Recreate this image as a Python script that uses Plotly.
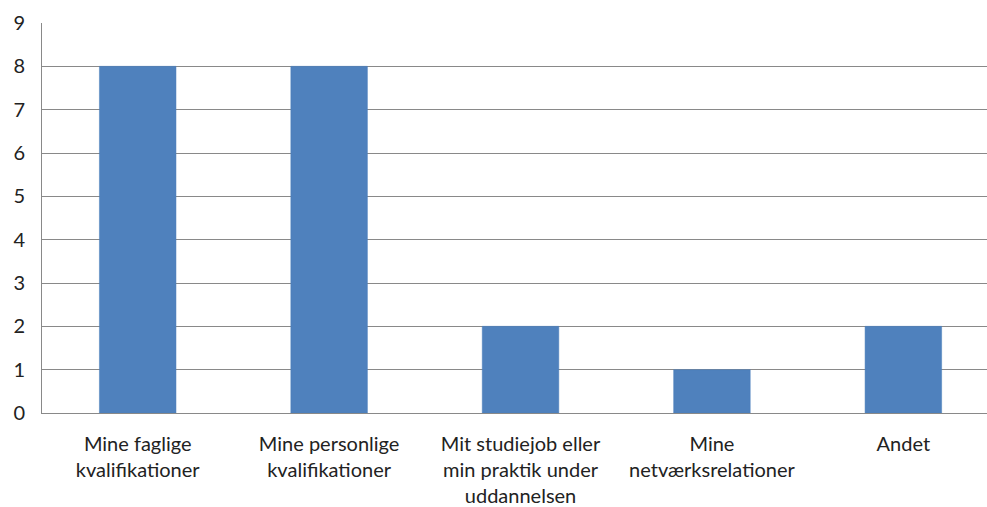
import plotly.graph_objects as go

categories = ["Mine faglige<br>kvalifikationer", "Mine personlige<br>kvalifikationer",
              "Mit studiejob eller<br>min praktik under<br>uddannelsen", "Mine<br>netværksrelationer", "Andet"]
values = [8, 8, 2, 1, 2]
y_ticks = list(range(0, 10))

fig = go.Figure(go.Bar(
    x=categories, y=values,
    marker=dict(color="#4F81BD", line=dict(color="#4A7EBB", width=0.5)),
    width=0.4,
))
fig.update_layout(
    width=987, height=507,
    margin=dict(l=42, r=0, t=23, b=94),
    paper_bgcolor="white", plot_bgcolor="white",
    font=dict(family="Lato, Open Sans, sans-serif", size=20, color="#222222"),
    showlegend=False, bargap=0.6,
)
fig.update_yaxes(range=[0, 9], tickvals=y_ticks, showgrid=True, gridcolor="#898989", gridwidth=1,
                 showline=True, linecolor="#898989", linewidth=1, ticks="", zeroline=False,
                 ticklabelstandoff=12, automargin=False)
fig.update_xaxes(range=[-0.5, 4.437], showline=True, linecolor="#898989", linewidth=1, ticks="",
                 ticklabelstandoff=13, automargin=False)
fig.write_html("out.html", config={"displayModeBar": False, "responsive": False},
               post_script="document.body.style.margin='0';document.body.style.overflow='hidden';")
